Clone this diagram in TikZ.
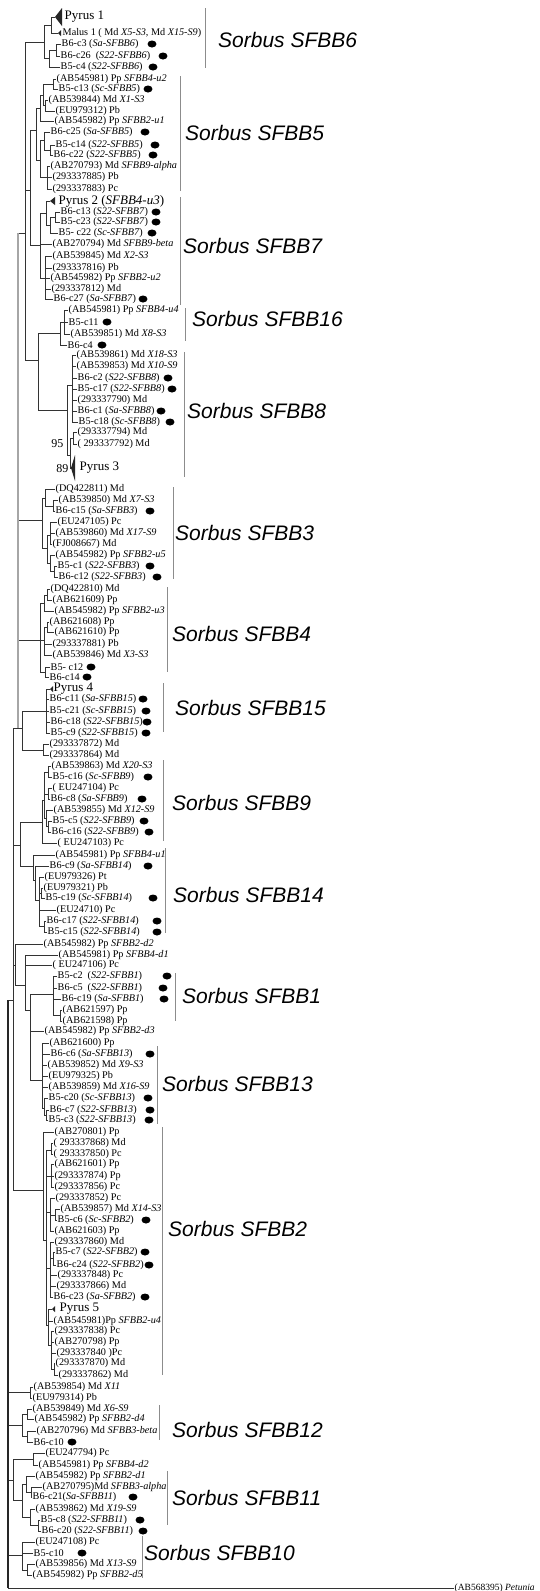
\documentclass[tikz,border=0pt]{standalone}
\usepackage{fontspec}
\setmainfont{Liberation Serif}
\newfontfamily\grpfont{Liberation Sans}
\usetikzlibrary{shapes.geometric}
\begin{document}
\begin{tikzpicture}[x=1pt,y=-1pt,
  leaf/.style={anchor=west,inner sep=0.5pt,font=\fontsize{10.2}{11}\selectfont},
  pyr/.style={anchor=west,inner sep=0.5pt,font=\fontsize{13}{14}\selectfont},
  seed/.style={ellipse,fill=black,minimum width=9pt,minimum height=7pt,inner sep=0pt},
  grp/.style={anchor=west,inner sep=0pt,font=\grpfont\itshape\fontsize{21}{24}\selectfont},
  boot/.style={anchor=east,inner sep=0.5pt,font=\fontsize{12}{12}\selectfont},
  br/.style={line width=0.7pt,black!80},
  bar/.style={line width=0.8pt,black!45}]
\useasboundingbox (0,0) rectangle (540,1591);
\fill[white] (0,0) rectangle (540,1591);

% collapsed clades
\foreach \n/\y/\x/\txt in {1/17/64/{Pyrus 1}, 17/201/58/{Pyrus 2 (\textit{SFBB4-u3})},
  40/468/79/{Pyrus 3}, 59/689/53/{Pyrus 4}, 115/1309/59/{Pyrus 5}}
  \node[pyr] (l\n) at (\x,\y) {\txt};
\foreach \p/\x/\y in {p1/55/17, p2/50/201, p3/71/468, p4/50/689, p5/52/1309, m1/58/33}
  \coordinate (\p) at (\x,\y);
\foreach \p/\w/\h in {p1/7/9, p2/5/4, p3/4/13, p4/3/3, p5/3/3, m1/3/3}
  \fill[black!85] (\p) -- ++(\w,-\h) -- ++(0,2*\h) -- cycle;

% leaves
\foreach \n/\y/\x/\txt in {
  2/33/62/{Malus 1 ( Md \textit{X5-S3}, Md \textit{X15-S9})},
  3/44/61/{B6-c3 (\textit{Sa-SFBB6})},
  4/56/60/{B6-c26 \ (\textit{S22-SFBB6})},
  5/67/60/{B5-c4 (\textit{S22-SFBB6})},
  6/79/56/{(AB545981) Pp \textit{SFBB4-u2}},
  7/89/58/{B5-c13 (\textit{Sc-SFBB5})},
  8/100/48/{(AB539844) Md \textit{X1-S3}},
  9/111/55/{(EU979312) Pb},
  10/121/54/{(AB545982) Pp \textit{SFBB2-u1}},
  11/132/50/{B6-c25 (\textit{Sa-SFBB5})},
  12/145/55/{B5-c14 (\textit{S22-SFBB5})},
  13/155/53/{B6-c22 (\textit{S22-SFBB5})},
  14/166/50/{(AB270793) Md \textit{SFBB9-alpha}},
  15/177/52/{(293337885) Pb},
  16/189/52/{(293337883) Pc},
  18/212/60/{B6-c13 (\textit{S22-SFBB7})},
  19/222/60/{B5-c23 (\textit{S22-SFBB7})},
  20/233/58/{B5- c22 (\textit{Sc-SFBB7})},
  21/244/52/{(AB270794) Md \textit{SFBB9-beta}},
  22/256/52/{(AB539845) Md \textit{X2-S3}},
  23/268/52/{(293337816) Pb},
  24/278/50/{(AB545982) Pp \textit{SFBB2-u2}},
  25/289/51/{(293337812) Md},
  26/299/53/{B6-c27 (\textit{Sa-SFBB7})},
  27/310/68/{(AB545981) Pp \textit{SFBB4-u4}},
  28/322/68/{B5-c11},
  29/334/70/{(AB539851) Md \textit{X8-S3}},
  30/345/67/{B6-c4},
  31/355/76/{(AB539861) Md \textit{X18-S3}},
  32/366/76/{(AB539853) Md \textit{X10-S9}},
  33/378/77/{B6-c2 (\textit{S22-SFBB8})},
  34/389/77/{B5-c17 (\textit{S22-SFBB8})},
  35/400/77/{(293337790) Md},
  36/411/77/{B6-c1 (\textit{Sa-SFBB8})},
  37/422/78/{B5-c18 (\textit{Sc-SFBB8})},
  38/432/77/{(293337794) Md},
  39/444/77/{( 293337792) Md},
  41/489/55/{(DQ422811) Md},
  42/500/58/{(AB539850) Md \textit{X7-S3}},
  43/511/55/{B6-c15 (\textit{Sa-SFBB3})},
  44/522/57/{(EU247105) Pc},
  45/533/55/{(AB539860) Md \textit{X17-S9}},
  46/544/52/{(FJ008667) Md},
  47/555/55/{(AB545982) Pp \textit{SFBB2-u5}},
  48/566/57/{B5-c1 (\textit{S22-SFBB3})},
  49/577/58/{B6-c12 (\textit{S22-SFBB3})},
  50/589/50/{(DQ422810) Md},
  51/600/52/{(AB621609) Pp},
  52/611/54/{(AB545982) Pp \textit{SFBB2-u3}},
  53/622/49/{(AB621608) Pp},
  54/632/54/{(AB621610) Pp},
  55/644/52/{(293337881) Pb},
  56/655/52/{(AB539846) Md \textit{X3-S3}},
  57/667/50/{B5- c12},
  58/677/49/{B6-c14},
  60/699/49/{B6-c11 (\textit{Sa-SFBB15})},
  61/711/49/{B5-c21 (\textit{Sc-SFBB15})},
  62/722/50/{B6-c18 (\textit{S22-SFBB15})},
  63/733/50/{B5-c9 (\textit{S22-SFBB15})},
  64/744/49/{(293337872) Md},
  65/755/49/{(293337864) Md},
  66/766/51/{(AB539863) Md \textit{X20-S3}},
  67/777/52/{B5-c16 (\textit{Sc-SFBB9})},
  68/788/52/{( EU247104) Pc},
  69/799/50/{B6-c8 (\textit{Sa-SFBB9})},
  70/810/53/{(AB539855) Md \textit{X12-S9}},
  71/821/52/{B5-c5 (\textit{S22-SFBB9})},
  72/832/51/{B6-c16 (\textit{S22-SFBB9})},
  73/843/57/{( EU247103) Pc},
  74/855/55/{(AB545981) Pp \textit{SFBB4-u1}},
  75/866/49/{B6-c9 (\textit{Sa-SFBB14})},
  76/877/44/{(EU979326) Pt},
  77/888/43/{(EU979321) Pb},
  78/898/45/{B5-c19 (\textit{Sc-SFBB14})},
  79/910/56/{(EU24710) Pc},
  80/921/46/{B6-c17 (\textit{S22-SFBB14})},
  81/932/47/{B5-c15 (\textit{S22-SFBB14})},
  82/944/43/{(AB545982) Pp \textit{SFBB2-d2}},
  83/955/58/{(AB545981) Pp \textit{SFBB4-d1}},
  84/965/52/{( EU247106) Pc},
  85/976/57/{B5-c2 \ (\textit{S22-SFBB1})},
  86/988/57/{B6-c5 \ (\textit{S22-SFBB1})},
  87/999/61/{B6-c19 (\textit{Sa-SFBB1})},
  88/1010/62/{(AB621597) Pp},
  89/1021/62/{(AB621598) Pp},
  90/1031/44/{(AB545982) Pp \textit{SFBB2-d3}},
  91/1043/49/{(AB621600) Pp},
  92/1054/50/{B6-c6 (\textit{Sa-SFBB13})},
  93/1065/47/{(AB539852) Md \textit{X9-S3}},
  94/1076/48/{(EU979325) Pb},
  95/1087/48/{(AB539859) Md \textit{X16-S9}},
  96/1098/48/{B5-c20 (\textit{Sc-SFBB13})},
  97/1110/49/{B6-c7 (\textit{S22-SFBB13})},
  98/1120/48/{B5-c3 (\textit{S22-SFBB13})},
  99/1132/54/{(AB270801) Pp},
  100/1143/53/{( 293337868) Md},
  101/1154/53/{( 293337850) Pc},
  102/1164/54/{(AB621601) Pp},
  103/1176/54/{(293337874) Pp},
  104/1187/54/{(293337856) Pc},
  105/1198/55/{(293337852) Pc},
  106/1209/60/{(AB539857) Md \textit{X14-S3}},
  107/1220/57/{B5-c6 (\textit{Sc-SFBB2})},
  108/1231/54/{(AB621603) Pp},
  109/1242/54/{(293337860) Md},
  110/1252/55/{B5-c7 (\textit{S22-SFBB2})},
  111/1265/56/{B6-c24 (\textit{S22-SFBB2})},
  112/1275/57/{(293337848) Pc},
  113/1286/56/{(293337866) Md},
  114/1297/53/{B6-c23 (\textit{Sa-SFBB2})},
  116/1321/53/{(AB545981)Pp \textit{SFBB2-u4}},
  117/1331/54/{(293337838) Pc},
  118/1342/54/{(AB270798) Pp},
  119/1353/56/{(293337840 )Pc},
  120/1363/55/{(293337870) Md},
  121/1375/58/{(293337862) Md},
  122/1387/33/{(AB539854) Md \textit{X11}},
  123/1398/32/{(EU979314) Pb},
  124/1409/32/{(AB539849) Md \textit{X6-S9}},
  125/1419/34/{(AB545982) Pp \textit{SFBB2-d4}},
  126/1431/36/{(AB270796) Md \textit{SFBB3-beta}},
  127/1442/33/{B6-c10},
  128/1453/45/{(EU247794) Pc},
  129/1465/38/{(AB545981) Pp \textit{SFBB4-d2}},
  130/1476/35/{(AB545982) Pp \textit{SFBB2-d1}},
  131/1487/42/{(AB270795)Md \textit{SFBB3-alpha}},
  132/1497/32/{B6-c21(\textit{Sa-SFBB11})},
  133/1509/35/{(AB539862) Md \textit{X19-S9}},
  134/1520/40/{B5-c8 (\textit{S22-SFBB11})},
  135/1531/41/{B6-c20 (\textit{S22-SFBB11})},
  136/1542/35/{(EU247108) Pc},
  137/1553/33/{B5-c10},
  138/1564/35/{(AB539856) Md \textit{X13-S9}},
  139/1575/32/{(AB545982) Pp \textit{SFBB2-d5}}}
  \node[leaf] (l\n) at (\x,\y) {\txt};
\node[leaf,font=\fontsize{9.5}{10}\selectfont] (l140) at (454,1588) {(AB568395) \textit{Petunia}};

% sampled Sorbus clones
\foreach \n/\x in {3/152, 4/163, 5/153, 7/148, 11/145, 12/155, 13/153, 18/156, 19/156,
  20/152, 26/143, 28/107, 30/102, 33/168, 34/172, 36/161, 37/170, 43/150, 48/150,
  49/157, 57/91, 58/87, 60/143, 61/146, 62/147, 63/146, 67/148, 69/142, 71/144,
  72/149, 75/148, 78/153, 80/157, 81/157, 85/167, 86/163, 87/164, 92/150, 96/148,
  97/150, 98/149, 107/146, 110/145, 111/149, 114/145, 127/72, 132/133, 134/140,
  135/143, 137/82}
  \node[seed] (d\n) at (\x,0 |- l\n) {};

% inner nodes
\foreach \n/\x/\y in {n6a/51/25, n6b/56/50, n6c/49/58, n6/44/42,
  n5a/53/84, n5b/45/105, n5c/43/95, n5d/40/108, n5e/50/150, n5f/44/140, n5g/47/177,
  n5h/40/160, n5/36/130, n7a/55/217, n7b/50/225, n7c/46/213, n7d/45/278, n7/40/245,
  n57/30/190, n16a/64/322, n16/60/333, n8a/72/385, n8b/73/438, n8c/70/455, n8/67/410,
  n168/38/360, bb1/25/233,
  n3a/53/506, n3b/45/498, n3c/50/535, n3e/54/571, n3f/50/563, n3g/47/548, n3/42/520,
  n4a/47/595, n4u/44/603, n4b/47/627, n4v/44/640, n4d/45/672, n4/40/640,
  n15/46/711, n15b/43/750, n15c/22/728, L1/18/728,
  n9a/48/772, n9b/48/794, n9c/48/826, n9d/46/818, n9e/44/800, n9/42/822,
  n14a/41/893, n14b/44/926, n14c/39/900, n14d/35/880, n14/33/866, n914/20/845,
  n1a/60/1015, n1/53/994, n13a/46/1115, n13b/44/1108, n13/42/1080,
  n1c/30/1010, n1d/25/985, n1e/15/965,
  n2a/51/1150, n2b/51/1176, n2c/55/1215, n2d/50/1212, n2e/53/1258, n2f/50/1268,
  n2g/54/1369, n2h/51/1345, n2i/48/1325, n2j/46/1240, n2/43/1190, L2/13/1000,
  n1223/30/1392, n12a/27/1414, n12b/27/1436, n12/22/1425,
  n11f/33/1459, n11a/31/1492, n11b/26/1484, n11c/38/1525, n11d/30/1517,
  n11e/22/1500, n11/13/1480, n10a/27/1570, n10/22/1555, root/8/1400}
  \coordinate (\n) at (\x,\y);

% branches
\foreach \c/\p in {p1/n6a, m1/n6a, l3/n6b, l4/n6b, n6b/n6c, l5/n6c, n6a/n6, n6c/n6,
  l6/n5a, l7/n5a, l8/n5b, l9/n5b, n5a/n5c, n5b/n5c, n5c/n5d, l10/n5d, l12/n5e,
  l13/n5e, l11/n5f, n5e/n5f, l14/n5g, l15/n5g, l16/n5g, n5f/n5h, n5g/n5h, n5d/n5,
  n5h/n5, l18/n7a, l19/n7a, n7a/n7b, l20/n7b, p2/n7c, n7b/n7c, l22/n7d, l23/n7d,
  l24/n7d, l25/n7d, l26/n7d, n7c/n7, l21/n7, n7d/n7, n5/n57, n7/n57,
  l27/n16a, l28/n16a, l29/n16a, n16a/n16, l30/n16, l31/n8a, l32/n8a, l33/n8a,
  l34/n8a, l35/n8a, l36/n8a, l37/n8a, l38/n8b, l39/n8b, n8b/n8c, p3/n8c, n8a/n8,
  n8c/n8, n16/n168, n8/n168, n6/bb1, n57/bb1, n168/bb1,
  l42/n3a, l43/n3a, l41/n3b, n3a/n3b, l44/n3c, l45/n3c, l46/n3c, l48/n3e, l49/n3e,
  l47/n3f, n3e/n3f, n3c/n3g, n3f/n3g, n3b/n3, n3g/n3,
  l50/n4a, l51/n4a, n4a/n4u, l52/n4u, l53/n4b, l54/n4b, n4b/n4v, l55/n4v, l56/n4v,
  l57/n4d, l58/n4d, n4u/n4, n4v/n4, n4d/n4,
  p4/n15, l60/n15, l61/n15, l62/n15, l63/n15, l64/n15b, l65/n15b, n15/n15c,
  n15b/n15c, bb1/L1, n3/L1, n4/L1, n15c/L1,
  l66/n9a, l67/n9a, l68/n9b, l69/n9b, l71/n9c, l72/n9c, l70/n9d, n9c/n9d, n9a/n9e,
  n9b/n9e, n9d/n9e, n9e/n9, l73/n9,
  l77/n14a, l78/n14a, l80/n14b, l81/n14b, l76/n14c, n14a/n14c, l79/n14c, n14b/n14c,
  l75/n14d, n14c/n14d, l74/n14, n14d/n14, n9/n914, n14/n914,
  l88/n1a, l89/n1a, l85/n1, l86/n1, l87/n1, n1a/n1, l97/n13a, l98/n13a, l96/n13b,
  n13a/n13b, l91/n13, l92/n13, l93/n13, l94/n13, l95/n13, n13b/n13, n1/n1c, l90/n1c,
  n13/n1c, l83/n1d, l84/n1d, n1c/n1d, l82/n1e, n1d/n1e,
  l100/n2a, l101/n2a, l102/n2b, l103/n2b, l104/n2b, l106/n2c, l107/n2c, l105/n2d,
  n2c/n2d, l108/n2d, l110/n2e, l111/n2e, l109/n2f, n2e/n2f, l112/n2f, l113/n2f,
  l114/n2f, l120/n2g, l121/n2g, l117/n2h, l118/n2h, l119/n2h, n2g/n2h, p5/n2i,
  l116/n2i, n2h/n2i, n2a/n2j, n2b/n2j, n2d/n2j, n2f/n2j, n2i/n2j, l99/n2, n2j/n2,
  L1/L2, n914/L2, n1e/L2, n2/L2,
  l122/n1223, l123/n1223, l124/n12a, l125/n12a, l126/n12b, l127/n12b, n12a/n12,
  n12b/n12, l128/n11f, l129/n11f, l131/n11a, l132/n11a, l130/n11b, n11a/n11b,
  l134/n11c, l135/n11c, l133/n11d, n11c/n11d, n11b/n11e, n11d/n11e, n11f/n11,
  n11e/n11, l138/n10a, l139/n10a, l136/n10, l137/n10, n10a/n10,
  L2/root, n1223/root, n12/root, n11/root, n10/root, l140/root}
  \draw[br] (\c) -| (\p);
\draw[line width=2pt,black!85] (root |- L2) -- (root |- l140);
\draw[line width=2pt,black!35] (L1 |- bb1) -- (L1);

\node[boot] (b95) at (64,444) {95};
\node[boot] (b89) at (69,469) {89};

% SFBB groups
\foreach \g/\x/\ya/\yb/\lx/\ly in {6/205/8/68/218/40, 5/180/76/191/185/133,
  7/180/197/305/183/246, 16/185/308/341/192/319, 8/184/352/477/187/411,
  3/173/487/579/175/533, 4/167/587/672/172/634, 15/163/683/732/175/708,
  9/163/760/841/172/803, 14/165/848/933/173/895, 1/175/973/1021/182/996,
  13/157/1046/1124/162/1084, 2/162/1127/1375/168/1229, 12/159/1405/1440/172/1430,
  11/167/1471/1525/172/1498, 10/142/1536/1578/144/1553}
{
  \draw[bar] (\x,\ya) -- (\x,\yb);
  \node[grp] (g\g) at (\lx,\ly) {Sorbus SFBB\g};
}
\end{tikzpicture}
\end{document}
